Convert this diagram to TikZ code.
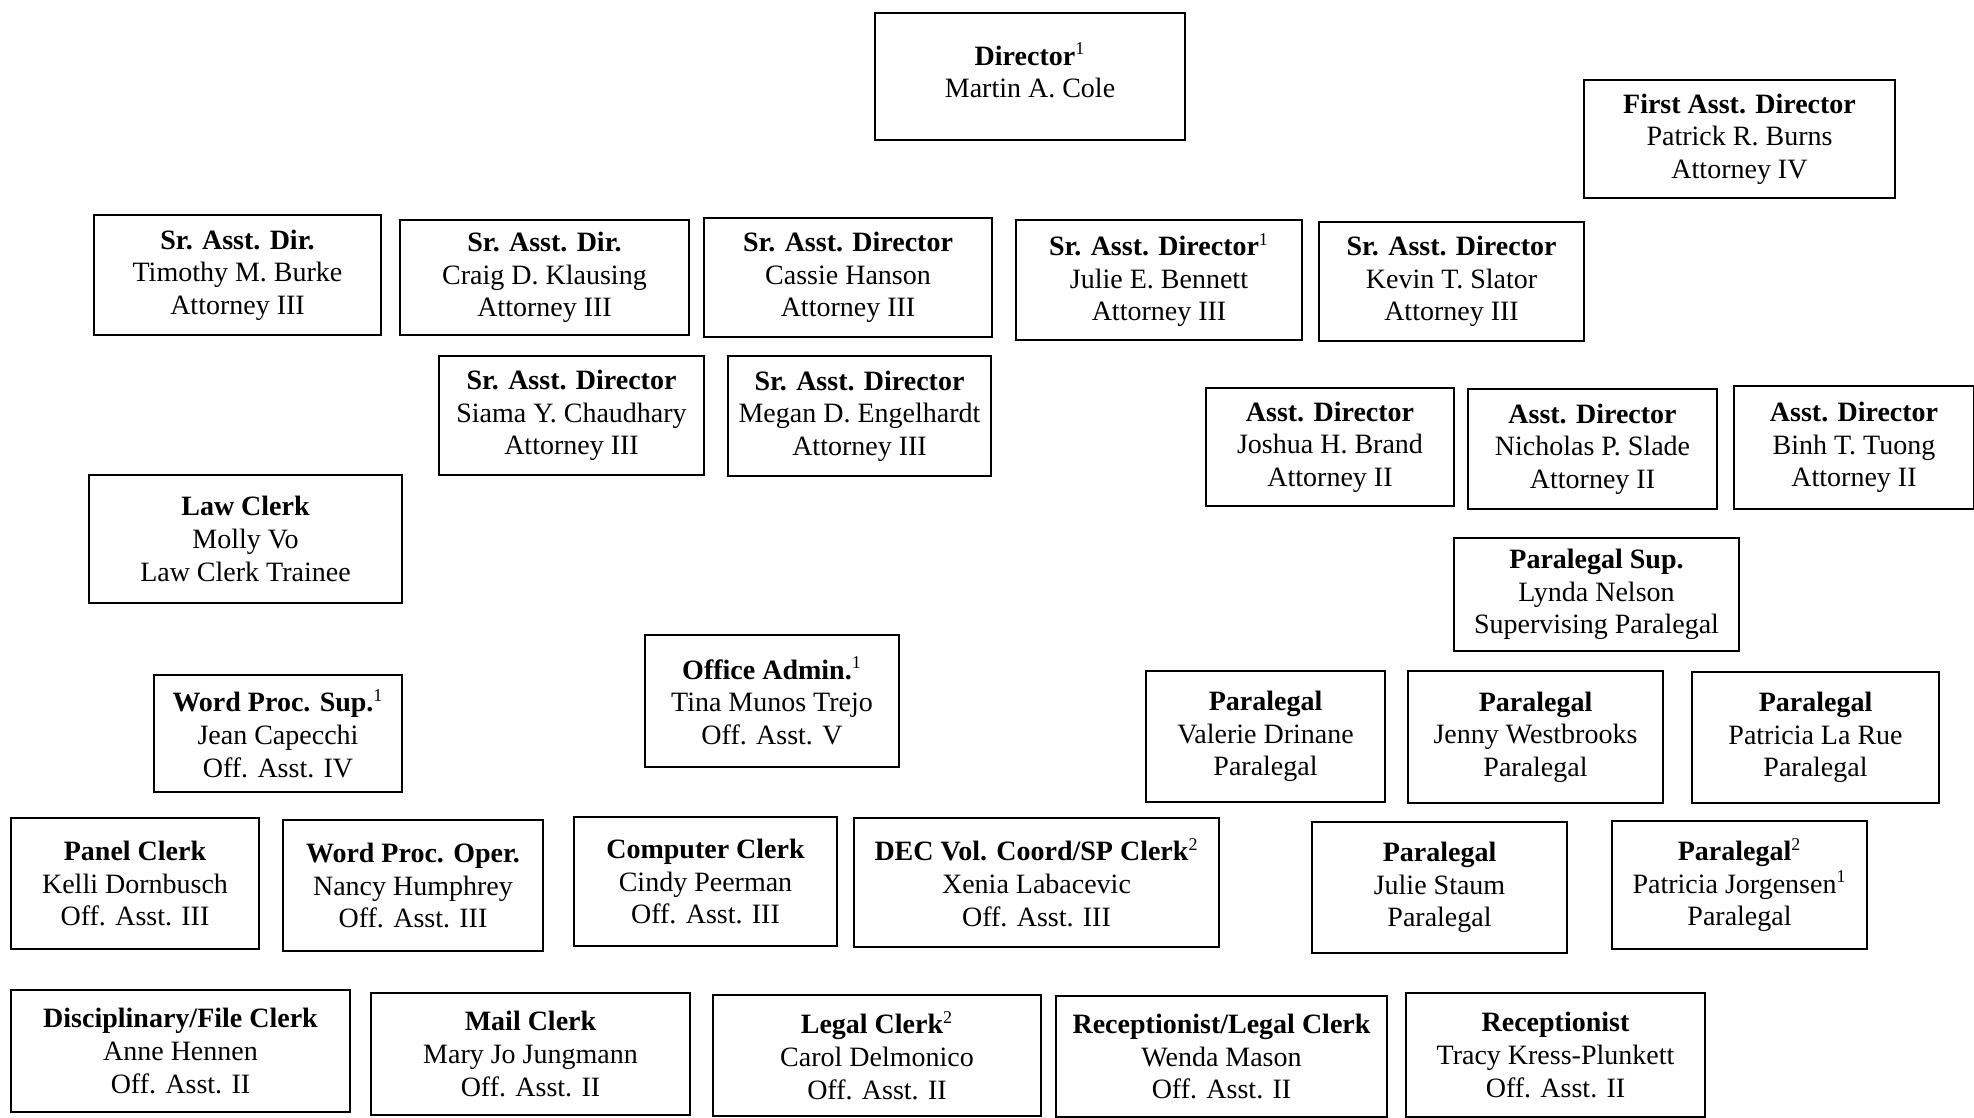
\documentclass[tikz,border=0pt]{standalone}
\usepackage{fontspec}
\setmainfont{Liberation Serif}
\usepackage{tikz}

\tikzset{
  post/.style 2 args={draw, line width=1.3pt, align=center, inner sep=0pt,
    minimum width=#1*0.5pt, minimum height=#2*0.5pt,
    font=\fontsize{14}{16.3}\selectfont},
}
\newcommand{\fnote}[1]{\textsuperscript{\normalfont\fontsize{9}{9}\selectfont #1}}

\begin{document}
\begin{tikzpicture}[x=0.5pt, y=-0.5pt]
  \useasboundingbox (0,0) rectangle (1974,1118);

  % director and first assistant
  \node[post={310}{127}] (dir) at (1030,76.5) {\textbf{Director\fnote{1}}\\Martin A. Cole\\[-10pt]};
  \node[post={311}{118}] (first) at (1739.5,139) {\textbf{First Asst. Director}\\Patrick R. Burns\\Attorney IV};

  % senior assistant directors
  \node[post={287}{120}] (burke) at (237.5,275) {\textbf{Sr. Asst. Dir.}\\Timothy M. Burke\\Attorney III};
  \node[post={289}{115}] (klausing) at (544.5,277.5) {\textbf{Sr. Asst. Dir.}\\Craig D. Klausing\\Attorney III};
  \node[post={288}{119}] (hanson) at (848,277.5) {\textbf{Sr. Asst. Director}\\Cassie Hanson\\Attorney III};
  \node[post={286}{120}] (bennett) at (1159,280) {\textbf{Sr. Asst. Director\fnote{1}}\\Julie E. Bennett\\Attorney III};
  \node[post={265}{119}] (slator) at (1451.5,281.5) {\textbf{Sr. Asst. Director}\\Kevin T. Slator\\Attorney III};
  \node[post={265}{119}] (chaudhary) at (571.5,415.5) {\textbf{Sr. Asst. Director}\\Siama Y. Chaudhary\\Attorney III};
  \node[post={263}{120}] (engelhardt) at (859.5,416) {\textbf{Sr. Asst. Director}\\Megan D. Engelhardt\\Attorney III};

  % assistant directors
  \node[post={248}{118}] (brand) at (1330,447) {\textbf{Asst. Director}\\Joshua H. Brand\\Attorney II};
  \node[post={249}{120}] (slade) at (1592.5,449) {\textbf{Asst. Director}\\Nicholas P. Slade\\Attorney II};
  \node[post={240}{123}] (tuong) at (1854,447.5) {\textbf{Asst. Director}\\Binh T. Tuong\\Attorney II};

  % clerks and supervisors
  \node[post={313}{128}] (lawclerk) at (245.5,539) {\textbf{Law Clerk}\\Molly Vo\\Law Clerk Trainee};
  \node[post={285}{113}] (parasup) at (1596.5,594.5) {\textbf{Paralegal Sup.}\\Lynda Nelson\\Supervising Paralegal};
  \node[post={254}{132}] (offadmin) at (772,701) {\textbf{Office Admin.\fnote{1}}\\Tina Munos Trejo\\Off. Asst. V};
  \node[post={248}{117}] (wpsup) at (278,733.5) {\textbf{Word Proc. Sup.\fnote{1}}\\Jean Capecchi\\Off. Asst. IV};

  % paralegals
  \node[post={239}{131}] (drinane) at (1265.5,736.5) {\textbf{Paralegal}\\Valerie Drinane\\Paralegal};
  \node[post={255}{132}] (westbrooks) at (1535.5,737) {\textbf{Paralegal}\\Jenny Westbrooks\\Paralegal};
  \node[post={247}{131}] (larue) at (1815.5,737.5) {\textbf{Paralegal}\\Patricia La Rue\\Paralegal};
  \node[post={255}{131}] (staum) at (1439.5,887.5) {\textbf{Paralegal}\\Julie Staum\\Paralegal};
  \node[post={255}{128}] (jorgensen) at (1739.5,885) {\textbf{Paralegal\fnote{2}}\\Patricia Jorgensen\fnote{1}\\Paralegal};

  % office assistants
  \node[post={248}{131}] (panel) at (135,883.5) {\textbf{Panel Clerk}\\Kelli Dornbusch\\Off. Asst. III};
  \node[post={260}{131}] (wpoper) at (413,885.5) {\textbf{Word Proc. Oper.}\\Nancy Humphrey\\Off. Asst. III};
  \node[post={263}{129}] (computer) at (705.5,881.5) {\textbf{Computer Clerk}\\Cindy Peerman\\Off. Asst. III};
  \node[post={365}{129}] (dec) at (1036.5,882.5) {\textbf{DEC Vol. Coord/SP Clerk\fnote{2}}\\Xenia Labacevic\\Off. Asst. III};
  \node[post={339}{122}] (disc) at (180.5,1051) {\textbf{Disciplinary/File Clerk}\\Anne Hennen\\Off. Asst. II};
  \node[post={319}{122}] (mail) at (530.5,1054) {\textbf{Mail Clerk}\\Mary Jo Jungmann\\Off. Asst. II};
  \node[post={328}{121}] (legal) at (877,1055.5) {\textbf{Legal Clerk\fnote{2}}\\Carol Delmonico\\Off. Asst. II};
  \node[post={331}{121}] (recleg) at (1221.5,1056.5) {\textbf{Receptionist/Legal Clerk}\\Wenda Mason\\Off. Asst. II};
  \node[post={299}{124}] (recep) at (1555.5,1055) {\textbf{Receptionist}\\Tracy Kress-Plunkett\\Off. Asst. II};
\end{tikzpicture}
\end{document}
